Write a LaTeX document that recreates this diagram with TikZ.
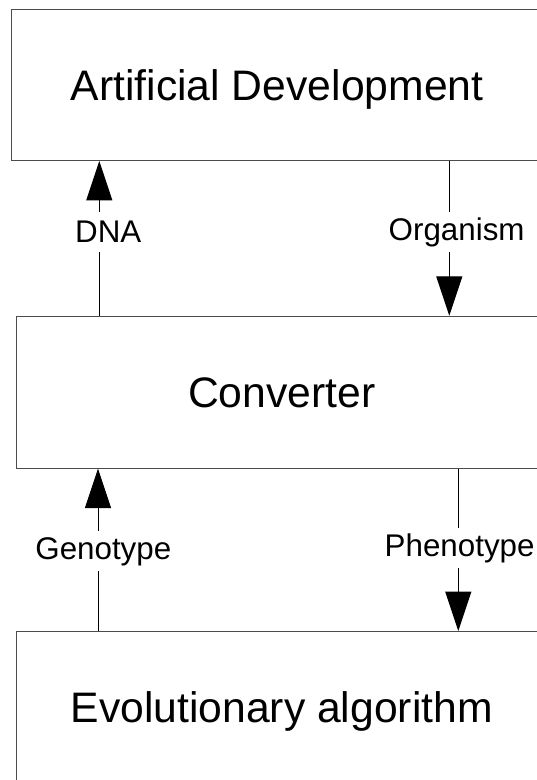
\documentclass[tikz,border=0pt]{standalone}
\usepackage{fontspec}
\setmainfont{Liberation Sans}
\usetikzlibrary{arrows.meta}

\tikzset{
  block/.style={draw=black!70, line width=0.75pt, anchor=north west, inner sep=0pt,
    text depth=0pt, font=\fontsize{32}{38}\selectfont},
  flow/.style={line width=0.75pt, -{Triangle[length=29.5pt,width=19.5pt]}},
  lbl/.style={fill=white, inner xsep=1pt, inner ysep=0pt, minimum height=30pt,
    font=\fontsize{23.5}{28}\selectfont}
}

\begin{document}
\begin{tikzpicture}[x=0.75pt,y=0.75pt,yscale=-1,xscale=1]
\useasboundingbox (0,0) rectangle (536,780);

%Shape: Rectangle [id:art]
\node[block, minimum width=398pt, minimum height=113.1pt] (art) at (11.3,9.2) {Artificial Development};
%Shape: Rectangle [id:conv]
\node[block, minimum width=397.2pt, minimum height=114pt] (conv) at (16.4,315.7) {Converter};
%Shape: Rectangle [id:evo]
\node[block, minimum width=397.2pt, minimum height=113.25pt] (evo) at (16.4,631) {Evolutionary algorithm};

\coordinate (upL) at (99.3,0);
\coordinate (upR) at (449.3,0);
\coordinate (loL) at (98,0);
\coordinate (loR) at (458.3,0);

%Straight Lines [id:dna]
\draw[flow] (conv.north -| upL) -- node[lbl, pos=0.54, xshift=6.75pt] (dna) {DNA} (art.south -| upL);
%Straight Lines [id:organism]
\draw[flow] (art.south -| upR) -- node[lbl, pos=0.46, xshift=5.5pt] (org) {Organism} (conv.north -| upR);
%Straight Lines [id:genotype]
\draw[flow] (evo.north -| loL) -- node[lbl, pos=0.49, xshift=4pt] (geno) {Genotype} (conv.south -| loL);
%Straight Lines [id:phenotype]
\draw[flow] (conv.south -| loR) -- node[lbl, pos=0.49, xshift=1pt] (pheno) {Phenotype} (evo.north -| loR);

\end{tikzpicture}
\end{document}
